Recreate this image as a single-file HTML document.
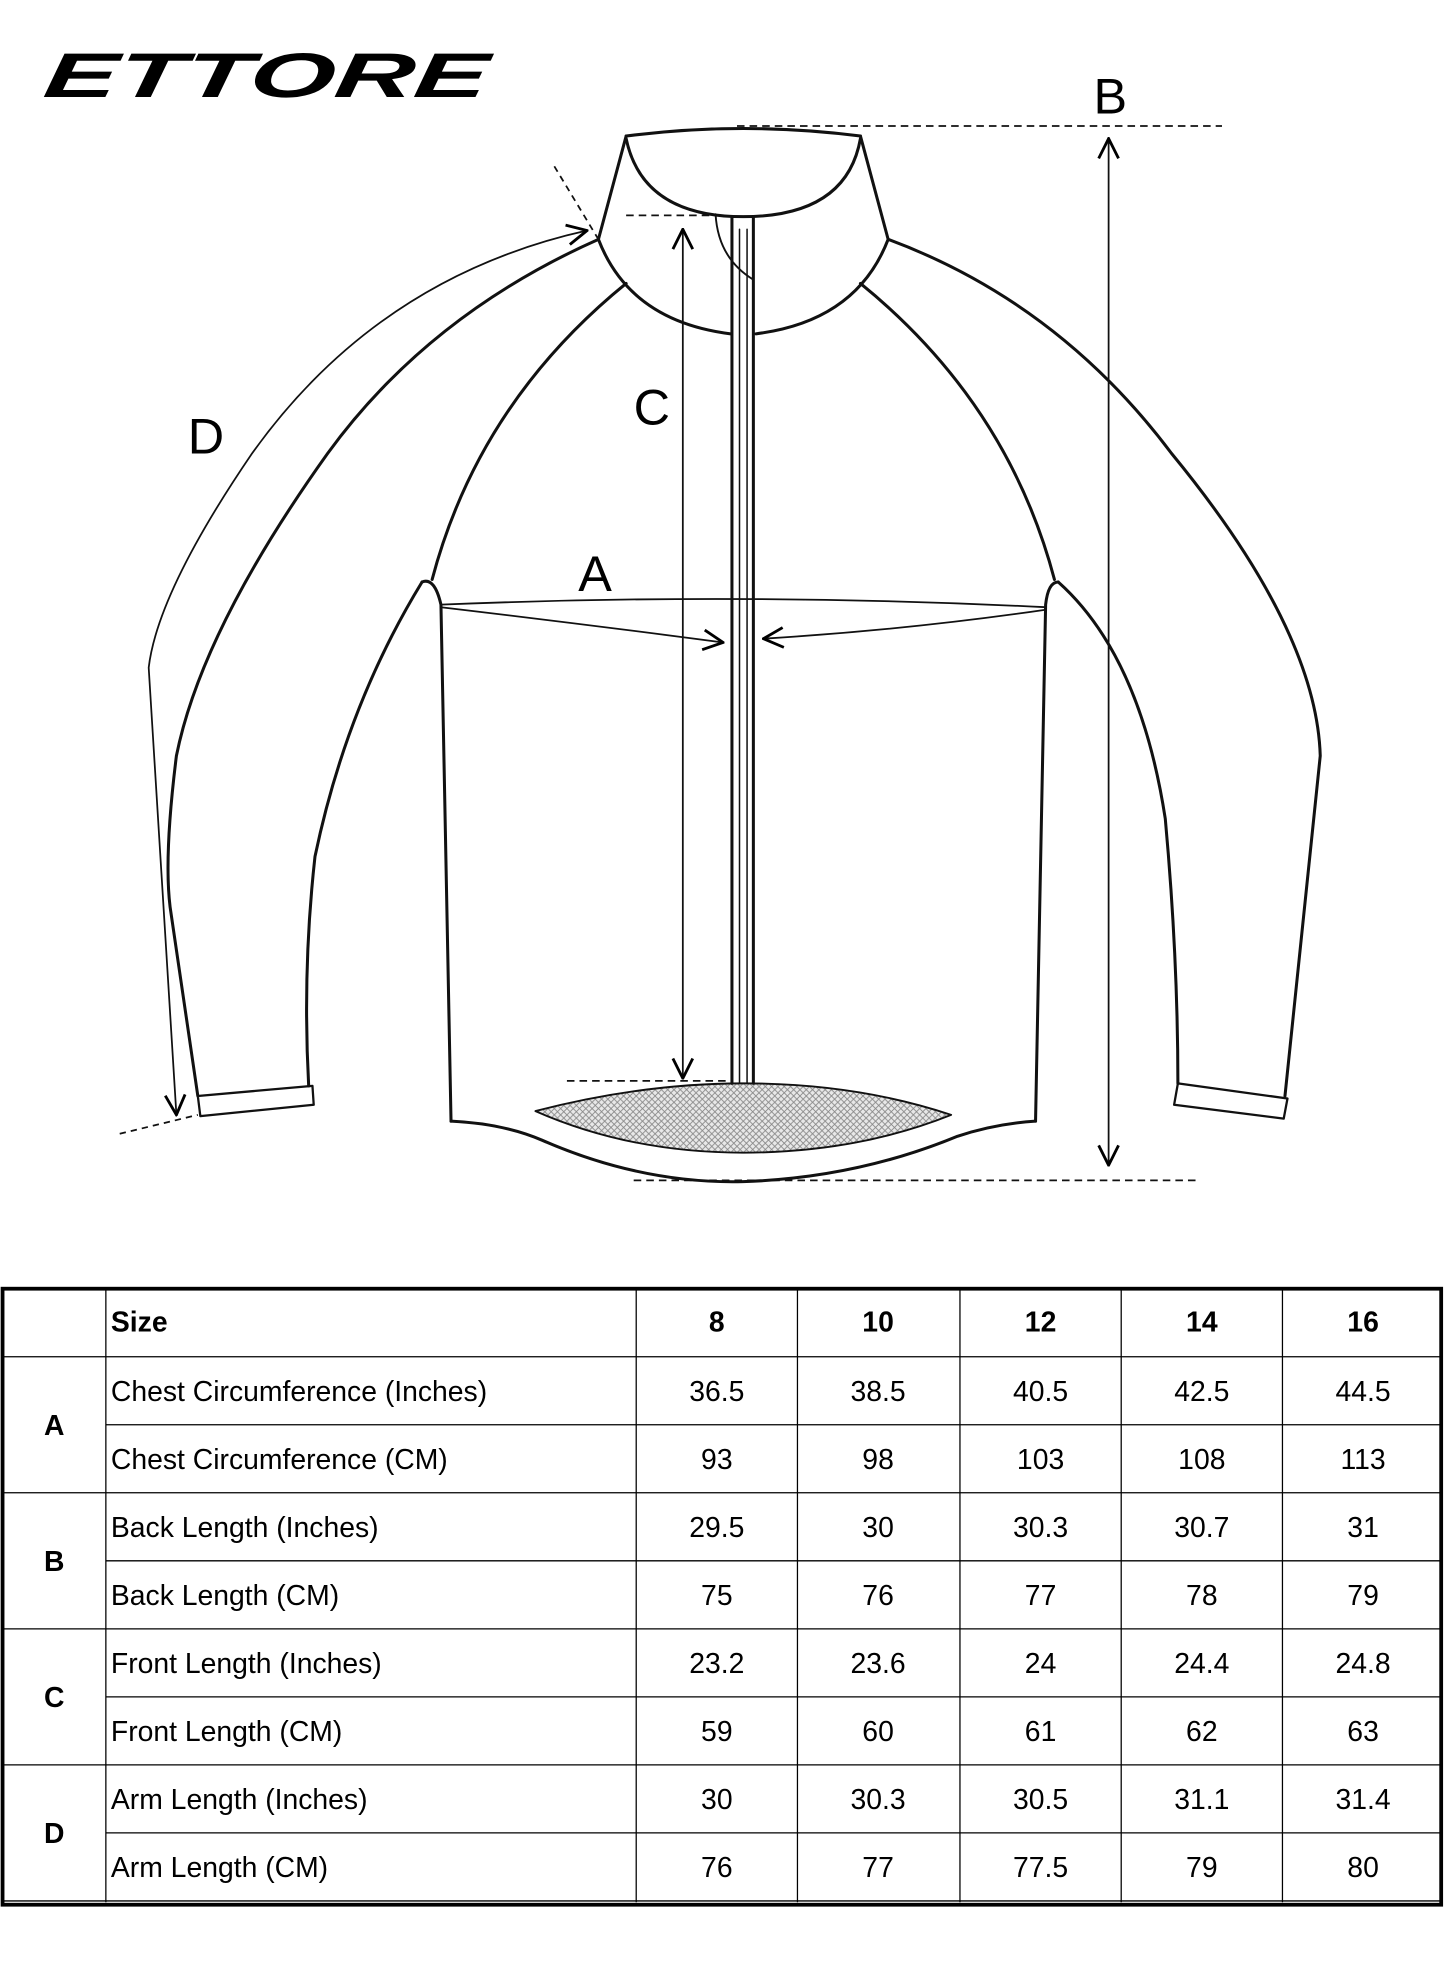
<!DOCTYPE html>
<html><head><meta charset="utf-8"><style>
html,body{margin:0;padding:0;background:#fff;}
svg{display:block;}
text{font-family:"Liberation Sans",sans-serif;fill:#000;}
</style></head><body>
<svg width="1445" height="1974" viewBox="0 0 1147 1567" xmlns="http://www.w3.org/2000/svg">
<defs>
<pattern id="hatch" width="5" height="5" patternUnits="userSpaceOnUse">
<rect width="5" height="5" fill="#e8e8e8"/>
<path d="M0,0L5,5M5,0L0,5" stroke="#888" stroke-width="0.7"/>
</pattern>
<marker id="arb" viewBox="0 0 16 16" refX="15" refY="8" markerWidth="18" markerHeight="18" markerUnits="userSpaceOnUse" orient="auto-start-reverse">
<path d="M1,1L15,8L1,15" fill="none" stroke="#000" stroke-width="2"/>
</marker>
</defs>
<rect width="1147" height="1567" fill="#fff"/>
<text x="34" y="77" font-size="50" font-weight="bold" font-style="italic" textLength="352" lengthAdjust="spacingAndGlyphs" transform="skewX(-8) translate(10,0)">ETTORE</text>

<g fill="none" stroke="#111" stroke-width="2.4" stroke-linejoin="round" stroke-linecap="round">
<path d="M425,882 Q510,860 590,860 Q680,860 755,885 Q680,915 590,915 Q500,915 425,882Z" fill="url(#hatch)" stroke-width="1.5"/>
<path d="M497,108 Q590,96 683,108"/>
<path d="M497,110 Q510,172 590,172 Q672,172 683,110"/>
<path d="M497,108 L475,190 Q500,255 580,265"/>
<path d="M683,108 L705,190 Q680,255 600,265"/>
<path d="M475,190 Q340,250 260,360 Q160,500 140,600 Q130,680 135,720 L157,870"/>
<path d="M335,462 Q275,560 250,680 Q240,770 245,862"/>
<path d="M157,870 L248,862 L249,877 L159,886 Z" stroke-width="1.8"/>
<path d="M497,225 Q380,320 343,460"/>
<path d="M335,462 Q345,458 350,480 L358,890"/>
<path d="M705,190 Q840,240 930,360 Q1045,500 1048,600 L1020,870"/>
<path d="M840,462 Q905,520 925,650 Q935,760 935,860"/>
<path d="M935,860 L1022,872 L1019,888 L932,877 Z" stroke-width="1.8"/>
<path d="M683,225 Q800,320 837,460"/>
<path d="M840,462 Q832,462 830,480 L822,890"/>
<path d="M358,890 Q400,892 430,905 Q510,940 590,938 Q680,935 760,902 Q790,892 822,890"/>
<path d="M581,172 L581,860 M598,172 L598,860"/>
<path d="M587,182 L587,860 M593,182 L593,860" stroke-width="1.2"/>
<path d="M568,170 Q570,205 598,222" stroke-width="1.5"/>
</g>

<g fill="none" stroke="#111" stroke-width="1.4">
<path d="M585,100 L970,100 M503,937 L952,937" stroke-dasharray="6,4"/>
<path d="M880,110 L880,925" marker-start="url(#arb)" marker-end="url(#arb)"/>
<path d="M497,171 L565,171 M450,858 L580,858" stroke-dasharray="6,4"/>
<path d="M542,182 L542,856" marker-start="url(#arb)" marker-end="url(#arb)"/>
<path d="M350,480 Q590,470 830,482"/>
<path d="M350,482 Q460,495 574,510" marker-end="url(#arb)"/>
<path d="M830,484 Q720,500 606,507" marker-end="url(#arb)"/>
<path d="M440,132 L475,190 M95,900 L157,885" stroke-dasharray="5,4"/>
<path d="M466,183 Q300,220 200,360 Q125,470 118,530 L140,885" marker-start="url(#arb)" marker-end="url(#arb)"/>
</g>

<text x="868" y="90" font-size="40">B</text>
<text x="503" y="337" font-size="40">C</text>
<text x="459" y="469" font-size="40">A</text>
<text x="149" y="360" font-size="40">D</text>

<g stroke="#000" fill="none">
<rect x="2" y="1023" width="1142" height="489" stroke-width="3"/>
<path d="M84,1023V1510 M505,1023V1510 M633,1023V1510 M762,1023V1510 M890,1023V1510 M1018,1023V1510" stroke-width="1"/>
<path d="M2,1077H1144 M2,1185H1144 M2,1293H1144 M2,1401H1144" stroke-width="1"/>
<path d="M84,1131H1144 M84,1239H1144 M84,1347H1144 M84,1455H1144" stroke-width="1"/>
<path d="M2,1509H1144" stroke-width="1"/>
</g>
<g font-size="22.5">
<text x="88" y="1057" font-weight="bold">Size</text>
<g font-weight="bold" text-anchor="middle">
<text x="569" y="1057">8</text><text x="697" y="1057">10</text><text x="826" y="1057">12</text><text x="954" y="1057">14</text><text x="1082" y="1057">16</text>
<text x="43" y="1139">A</text><text x="43" y="1247">B</text><text x="43" y="1355">C</text><text x="43" y="1463">D</text>
</g>
<text x="88" y="1112">Chest Circumference (Inches)</text>
<text x="88" y="1166">Chest Circumference (CM)</text>
<text x="88" y="1220">Back Length (Inches)</text>
<text x="88" y="1274">Back Length (CM)</text>
<text x="88" y="1328">Front Length (Inches)</text>
<text x="88" y="1382">Front Length (CM)</text>
<text x="88" y="1436">Arm Length (Inches)</text>
<text x="88" y="1490">Arm Length (CM)</text>
<g text-anchor="middle">
<text x="569" y="1112">36.5</text><text x="697" y="1112">38.5</text><text x="826" y="1112">40.5</text><text x="954" y="1112">42.5</text><text x="1082" y="1112">44.5</text>
<text x="569" y="1166">93</text><text x="697" y="1166">98</text><text x="826" y="1166">103</text><text x="954" y="1166">108</text><text x="1082" y="1166">113</text>
<text x="569" y="1220">29.5</text><text x="697" y="1220">30</text><text x="826" y="1220">30.3</text><text x="954" y="1220">30.7</text><text x="1082" y="1220">31</text>
<text x="569" y="1274">75</text><text x="697" y="1274">76</text><text x="826" y="1274">77</text><text x="954" y="1274">78</text><text x="1082" y="1274">79</text>
<text x="569" y="1328">23.2</text><text x="697" y="1328">23.6</text><text x="826" y="1328">24</text><text x="954" y="1328">24.4</text><text x="1082" y="1328">24.8</text>
<text x="569" y="1382">59</text><text x="697" y="1382">60</text><text x="826" y="1382">61</text><text x="954" y="1382">62</text><text x="1082" y="1382">63</text>
<text x="569" y="1436">30</text><text x="697" y="1436">30.3</text><text x="826" y="1436">30.5</text><text x="954" y="1436">31.1</text><text x="1082" y="1436">31.4</text>
<text x="569" y="1490">76</text><text x="697" y="1490">77</text><text x="826" y="1490">77.5</text><text x="954" y="1490">79</text><text x="1082" y="1490">80</text>
</g>
</g>
</svg>
</body></html>
